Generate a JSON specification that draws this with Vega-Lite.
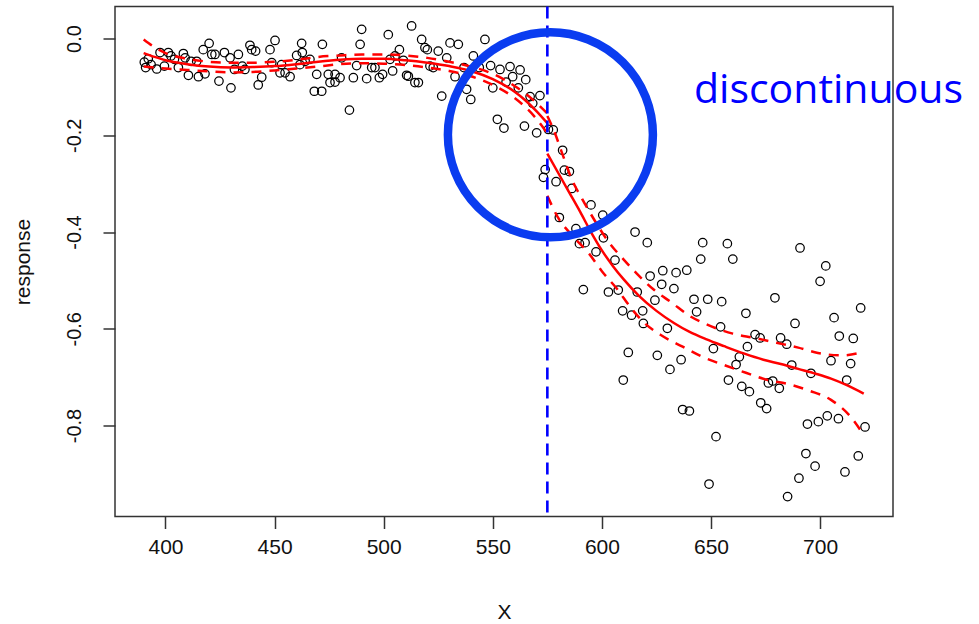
{
  "$schema": "https://vega.github.io/schema/vega-lite/v6.json",
  "width": 778,
  "height": 510,
  "autosize": {"type": "none"},
  "padding": {"left": 115, "top": 6.5, "right": 86, "bottom": 107.5},
  "background": "white",
  "config": {
    "view": {"stroke": "#333333", "strokeWidth": 1.5},
    "font": "Liberation Sans"
  },
  "datasets": {
    "obs": [
      {"x":390.3,"y":-0.049},{"x":390.9,"y":-0.060},{"x":392.1,"y":-0.042},{"x":393.4,"y":-0.054},{"x":396.0,"y":-0.063},
      {"x":397.5,"y":-0.029},{"x":399.5,"y":-0.057},{"x":401.3,"y":-0.029},{"x":402.5,"y":-0.036},{"x":404.1,"y":-0.043},
      {"x":405.9,"y":-0.060},{"x":408.2,"y":-0.031},{"x":409.0,"y":-0.040},{"x":410.5,"y":-0.076},{"x":411.7,"y":-0.047},
      {"x":414.3,"y":-0.047},{"x":415.1,"y":-0.079},{"x":417.3,"y":-0.023},{"x":418.1,"y":-0.073},{"x":420.0,"y":-0.010},
      {"x":421.2,"y":-0.033},{"x":422.7,"y":-0.033},{"x":424.5,"y":-0.088},{"x":427.0,"y":-0.029},{"x":429.6,"y":-0.040},
      {"x":430.0,"y":-0.102},{"x":431.6,"y":-0.064},{"x":433.4,"y":-0.033},{"x":435.2,"y":-0.057},{"x":436.4,"y":-0.064},
      {"x":438.7,"y":-0.014},{"x":439.5,"y":-0.023},{"x":441.3,"y":-0.026},{"x":442.5,"y":-0.096},{"x":444.1,"y":-0.080},
      {"x":447.9,"y":-0.023},{"x":450.2,"y":-0.004},{"x":448.7,"y":-0.050},{"x":452.5,"y":-0.071},{"x":453.2,"y":-0.054},
      {"x":454.8,"y":-0.071},{"x":457.1,"y":-0.079},{"x":460.1,"y":-0.035},{"x":461.6,"y":-0.054},{"x":462.4,"y":-0.010},
      {"x":462.7,"y":-0.029},{"x":464.0,"y":-0.047},{"x":466.2,"y":-0.043},{"x":469.3,"y":-0.074},{"x":468.2,"y":-0.109},
      {"x":471.6,"y":-0.109},{"x":471.9,"y":-0.012},{"x":474.6,"y":-0.074},{"x":475.4,"y":-0.091},{"x":477.7,"y":-0.074},
      {"x":477.7,"y":-0.090},{"x":480.7,"y":-0.040},
      {"x":480.0,"y":-0.081},{"x":484.3,"y":-0.148},{"x":486.1,"y":-0.081},{"x":487.6,"y":-0.056},{"x":489.2,"y":-0.012},
      {"x":489.9,"y":0.019},{"x":492.2,"y":-0.083},{"x":494.5,"y":-0.060},{"x":496.0,"y":-0.060},{"x":498.0,"y":-0.081},
      {"x":499.5,"y":-0.074},{"x":502.1,"y":0.008},{"x":502.9,"y":-0.043},{"x":504.1,"y":-0.067},{"x":505.2,"y":-0.036},
      {"x":507.2,"y":-0.023},{"x":509.0,"y":-0.045},{"x":510.5,"y":-0.076},{"x":511.3,"y":-0.078},{"x":512.8,"y":0.026},
      {"x":514.3,"y":-0.091},{"x":515.9,"y":-0.091},{"x":517.4,"y":-0.002},{"x":518.9,"y":-0.019},{"x":520.0,"y":-0.023},
      {"x":521.2,"y":-0.057},{"x":522.7,"y":-0.060},{"x":525.0,"y":-0.026},{"x":526.6,"y":-0.119},{"x":528.9,"y":-0.040},
      {"x":530.4,"y":-0.009},{"x":532.7,"y":-0.079},{"x":534.2,"y":-0.012},{"x":536.8,"y":-0.060},{"x":538.0,"y":-0.105},
      {"x":539.9,"y":-0.126},{"x":541.1,"y":-0.036},{"x":543.8,"y":-0.060},{"x":546.4,"y":-0.002},{"x":549.0,"y":-0.056},
      {"x":550.0,"y":-0.102},{"x":553.3,"y":-0.064},{"x":552.1,"y":-0.167},{"x":555.1,"y":-0.185},{"x":556.1,"y":-0.090},
      {"x":557.9,"y":-0.058},{"x":559.1,"y":-0.079},{"x":561.7,"y":-0.102},{"x":562.5,"y":-0.065},{"x":564.5,"y":-0.181},
      {"x":565.1,"y":-0.085},{"x":567.1,"y":-0.120},{"x":568.3,"y":-0.134},{"x":570.1,"y":-0.195},{"x":571.6,"y":-0.118},
      {"x":575.5,"y":-0.188},{"x":577.7,"y":-0.189},
      {"x":582.0,"y":-0.231},{"x":574.0,"y":-0.271},{"x":573.2,"y":-0.287},{"x":579.0,"y":-0.296},{"x":582.8,"y":-0.272},
      {"x":585.1,"y":-0.275},{"x":586.2,"y":-0.310},{"x":595.0,"y":-0.344},{"x":580.5,"y":-0.370},{"x":600.4,"y":-0.365},
      {"x":615.2,"y":-0.400},{"x":620.8,"y":-0.422},{"x":588.1,"y":-0.393},{"x":589.7,"y":-0.424},{"x":592.3,"y":-0.422},
      {"x":597.3,"y":-0.441},{"x":600.7,"y":-0.412},{"x":606.0,"y":-0.458},{"x":591.5,"y":-0.519},{"x":603.0,"y":-0.524},
      {"x":607.5,"y":-0.520},{"x":616.2,"y":-0.524},{"x":622.1,"y":-0.491},{"x":627.9,"y":-0.480},{"x":627.4,"y":-0.508},
      {"x":633.0,"y":-0.517},{"x":634.0,"y":-0.484},{"x":624.3,"y":-0.541},{"x":609.5,"y":-0.563},{"x":613.6,"y":-0.572},
      {"x":618.7,"y":-0.563},
      {"x":646.2,"y":-0.422},{"x":657.5,"y":-0.424},{"x":645.3,"y":-0.456},{"x":660.0,"y":-0.456},{"x":638.9,"y":-0.479},
      {"x":642.2,"y":-0.539},{"x":648.5,"y":-0.539},{"x":654.9,"y":-0.544},{"x":643.4,"y":-0.565},{"x":666.0,"y":-0.568},
      {"x":619.0,"y":-0.589},{"x":630.0,"y":-0.599},{"x":654.4,"y":-0.596},{"x":666.7,"y":-0.637},{"x":651.1,"y":-0.641},
      {"x":663.0,"y":-0.658},{"x":661.5,"y":-0.674},{"x":612.1,"y":-0.649},{"x":625.4,"y":-0.655},{"x":636.3,"y":-0.664},
      {"x":631.2,"y":-0.684},{"x":609.8,"y":-0.706},{"x":658.0,"y":-0.706},{"x":664.1,"y":-0.719},{"x":667.6,"y":-0.730},
      {"x":637.0,"y":-0.767},{"x":640.1,"y":-0.770},{"x":652.3,"y":-0.823},{"x":649.1,"y":-0.921},
      {"x":690.8,"y":-0.433},{"x":702.6,"y":-0.470},{"x":700.0,"y":-0.502},{"x":679.3,"y":-0.536},{"x":718.6,"y":-0.557},
      {"x":688.5,"y":-0.589},{"x":706.4,"y":-0.577},{"x":708.8,"y":-0.615},{"x":715.2,"y":-0.620},{"x":670.2,"y":-0.612},
      {"x":672.5,"y":-0.619},{"x":681.9,"y":-0.619},{"x":684.7,"y":-0.632},{"x":687.0,"y":-0.675},{"x":705.0,"y":-0.666},
      {"x":714.0,"y":-0.672},{"x":695.8,"y":-0.692},{"x":712.2,"y":-0.706},{"x":678.3,"y":-0.708},{"x":676.3,"y":-0.712},
      {"x":681.3,"y":-0.723},{"x":672.8,"y":-0.753},{"x":675.5,"y":-0.765},{"x":694.2,"y":-0.797},{"x":699.2,"y":-0.792},
      {"x":703.3,"y":-0.780},{"x":708.4,"y":-0.786},{"x":720.6,"y":-0.803},{"x":693.5,"y":-0.858},{"x":697.7,"y":-0.884},
      {"x":717.5,"y":-0.863},{"x":711.4,"y":-0.896},{"x":690.3,"y":-0.909},{"x":685.1,"y":-0.947}
    ],
    "fit": [
      {"seg":"L","band":"fit","x":390,"y":-0.030},{"seg":"L","band":"fit","x":395,"y":-0.038},{"seg":"L","band":"fit","x":400,"y":-0.045},
      {"seg":"L","band":"fit","x":410,"y":-0.053},{"seg":"L","band":"fit","x":420,"y":-0.058},{"seg":"L","band":"fit","x":430,"y":-0.060},
      {"seg":"L","band":"fit","x":440,"y":-0.059},{"seg":"L","band":"fit","x":450,"y":-0.057},{"seg":"L","band":"fit","x":460,"y":-0.053},
      {"seg":"L","band":"fit","x":470,"y":-0.048},{"seg":"L","band":"fit","x":480,"y":-0.044},{"seg":"L","band":"fit","x":490,"y":-0.042},
      {"seg":"L","band":"fit","x":500,"y":-0.042},{"seg":"L","band":"fit","x":510,"y":-0.045},{"seg":"L","band":"fit","x":520,"y":-0.050},
      {"seg":"L","band":"fit","x":530,"y":-0.057},{"seg":"L","band":"fit","x":540,"y":-0.067},{"seg":"L","band":"fit","x":550,"y":-0.084},
      {"seg":"L","band":"fit","x":560,"y":-0.110},{"seg":"L","band":"fit","x":565,"y":-0.128},{"seg":"L","band":"fit","x":570,"y":-0.150},
      {"seg":"L","band":"fit","x":575,"y":-0.175},
      {"seg":"L","band":"upper","x":390,"y":-0.002},{"seg":"L","band":"upper","x":395,"y":-0.018},{"seg":"L","band":"upper","x":400,"y":-0.030},
      {"seg":"L","band":"upper","x":410,"y":-0.042},{"seg":"L","band":"upper","x":420,"y":-0.048},{"seg":"L","band":"upper","x":430,"y":-0.050},
      {"seg":"L","band":"upper","x":440,"y":-0.050},{"seg":"L","band":"upper","x":450,"y":-0.048},{"seg":"L","band":"upper","x":460,"y":-0.044},
      {"seg":"L","band":"upper","x":470,"y":-0.038},{"seg":"L","band":"upper","x":480,"y":-0.035},{"seg":"L","band":"upper","x":490,"y":-0.033},
      {"seg":"L","band":"upper","x":500,"y":-0.033},{"seg":"L","band":"upper","x":510,"y":-0.035},{"seg":"L","band":"upper","x":520,"y":-0.040},
      {"seg":"L","band":"upper","x":530,"y":-0.048},{"seg":"L","band":"upper","x":540,"y":-0.058},{"seg":"L","band":"upper","x":550,"y":-0.073},
      {"seg":"L","band":"upper","x":560,"y":-0.098},{"seg":"L","band":"upper","x":565,"y":-0.114},{"seg":"L","band":"upper","x":570,"y":-0.133},
      {"seg":"L","band":"upper","x":575,"y":-0.155},
      {"seg":"L","band":"lower","x":390,"y":-0.058},{"seg":"L","band":"lower","x":395,"y":-0.060},{"seg":"L","band":"lower","x":400,"y":-0.062},
      {"seg":"L","band":"lower","x":410,"y":-0.065},{"seg":"L","band":"lower","x":420,"y":-0.068},{"seg":"L","band":"lower","x":430,"y":-0.070},
      {"seg":"L","band":"lower","x":440,"y":-0.069},{"seg":"L","band":"lower","x":450,"y":-0.066},{"seg":"L","band":"lower","x":460,"y":-0.062},
      {"seg":"L","band":"lower","x":470,"y":-0.058},{"seg":"L","band":"lower","x":480,"y":-0.053},{"seg":"L","band":"lower","x":490,"y":-0.051},
      {"seg":"L","band":"lower","x":500,"y":-0.052},{"seg":"L","band":"lower","x":510,"y":-0.055},{"seg":"L","band":"lower","x":520,"y":-0.060},
      {"seg":"L","band":"lower","x":530,"y":-0.067},{"seg":"L","band":"lower","x":540,"y":-0.078},{"seg":"L","band":"lower","x":550,"y":-0.096},
      {"seg":"L","band":"lower","x":560,"y":-0.123},{"seg":"L","band":"lower","x":565,"y":-0.142},{"seg":"L","band":"lower","x":570,"y":-0.166},
      {"seg":"L","band":"lower","x":575,"y":-0.196},
      {"seg":"R","band":"fit","x":575,"y":-0.238},{"seg":"R","band":"fit","x":580,"y":-0.278},{"seg":"R","band":"fit","x":585,"y":-0.318},
      {"seg":"R","band":"fit","x":590,"y":-0.358},{"seg":"R","band":"fit","x":595,"y":-0.400},{"seg":"R","band":"fit","x":600,"y":-0.438},
      {"seg":"R","band":"fit","x":605,"y":-0.470},{"seg":"R","band":"fit","x":610,"y":-0.498},{"seg":"R","band":"fit","x":617,"y":-0.532},
      {"seg":"R","band":"fit","x":625,"y":-0.563},{"seg":"R","band":"fit","x":633,"y":-0.588},{"seg":"R","band":"fit","x":640,"y":-0.606},
      {"seg":"R","band":"fit","x":648,"y":-0.622},{"seg":"R","band":"fit","x":656,"y":-0.636},{"seg":"R","band":"fit","x":665,"y":-0.651},
      {"seg":"R","band":"fit","x":674,"y":-0.664},{"seg":"R","band":"fit","x":682,"y":-0.673},{"seg":"R","band":"fit","x":690,"y":-0.683},
      {"seg":"R","band":"fit","x":698,"y":-0.693},{"seg":"R","band":"fit","x":705,"y":-0.703},{"seg":"R","band":"fit","x":712,"y":-0.716},
      {"seg":"R","band":"fit","x":720,"y":-0.734},
      {"seg":"R","band":"upper","x":575,"y":-0.160},{"seg":"R","band":"upper","x":578,"y":-0.190},{"seg":"R","band":"upper","x":582,"y":-0.240},
      {"seg":"R","band":"upper","x":586,"y":-0.289},{"seg":"R","band":"upper","x":591,"y":-0.332},{"seg":"R","band":"upper","x":596,"y":-0.371},
      {"seg":"R","band":"upper","x":603,"y":-0.420},{"seg":"R","band":"upper","x":610,"y":-0.457},{"seg":"R","band":"upper","x":616,"y":-0.486},
      {"seg":"R","band":"upper","x":624,"y":-0.520},{"seg":"R","band":"upper","x":632,"y":-0.546},{"seg":"R","band":"upper","x":640,"y":-0.573},
      {"seg":"R","band":"upper","x":648,"y":-0.591},{"seg":"R","band":"upper","x":660,"y":-0.610},{"seg":"R","band":"upper","x":670,"y":-0.619},
      {"seg":"R","band":"upper","x":680,"y":-0.629},{"seg":"R","band":"upper","x":690,"y":-0.639},{"seg":"R","band":"upper","x":699,"y":-0.650},
      {"seg":"R","band":"upper","x":710,"y":-0.655},{"seg":"R","band":"upper","x":720,"y":-0.648},
      {"seg":"R","band":"lower","x":575,"y":-0.325},{"seg":"R","band":"lower","x":580,"y":-0.371},{"seg":"R","band":"lower","x":587,"y":-0.410},
      {"seg":"R","band":"lower","x":594,"y":-0.444},{"seg":"R","band":"lower","x":600,"y":-0.481},{"seg":"R","band":"lower","x":607,"y":-0.518},
      {"seg":"R","band":"lower","x":613,"y":-0.555},{"seg":"R","band":"lower","x":619,"y":-0.586},{"seg":"R","band":"lower","x":627,"y":-0.613},
      {"seg":"R","band":"lower","x":637,"y":-0.637},{"seg":"R","band":"lower","x":646,"y":-0.658},{"seg":"R","band":"lower","x":656,"y":-0.675},
      {"seg":"R","band":"lower","x":666,"y":-0.691},{"seg":"R","band":"lower","x":676,"y":-0.706},{"seg":"R","band":"lower","x":685,"y":-0.714},
      {"seg":"R","band":"lower","x":695,"y":-0.728},{"seg":"R","band":"lower","x":705,"y":-0.747},{"seg":"R","band":"lower","x":714,"y":-0.782},
      {"seg":"R","band":"lower","x":720,"y":-0.820}
    ],
    "cut": [{"x": 575}],
    "ring": [{"x": 576.4, "y": -0.199}],
    "note": [{"x": 642.2, "y": -0.133, "label": "discontinuous"}]
  },
  "layer": [
    {
      "data": {"name": "obs"},
      "mark": {"type": "point", "shape": "circle", "filled": false, "stroke": "#000000", "strokeWidth": 1.25, "size": 72, "opacity": 1},
      "encoding": {
        "x": {
          "field": "x", "type": "quantitative", "title": "X",
          "scale": {"domain": [376.86, 733.41], "nice": false, "zero": false},
          "axis": {
            "values": [400, 450, 500, 550, 600, 650, 700], "format": "d",
            "grid": false, "domain": false, "tickSize": 12, "tickColor": "#333333", "tickWidth": 1.5,
            "labelFont": "Liberation Sans", "labelFontSize": 21, "labelColor": "#111111", "labelPadding": 8,
            "labelFlush": false, "labelOverlap": false,
            "titleFont": "Liberation Sans", "titleFontSize": 21, "titleFontWeight": "normal", "titleColor": "#111111",
            "titleX": 389, "titleY": 102, "titleAlign": "center", "titleBaseline": "alphabetic"
          }
        },
        "y": {
          "field": "y", "type": "quantitative", "title": "response",
          "scale": {"domain": [-0.9881, 0.0662], "nice": false, "zero": false},
          "axis": {
            "values": [0, -0.2, -0.4, -0.6, -0.8],
            "labelExpr": "replace(format(datum.value, '.1f'), '\u2212', '-')",
            "grid": false, "domain": false, "tickSize": 12, "tickColor": "#333333", "tickWidth": 1.5,
            "labelFont": "Liberation Sans", "labelFontSize": 20, "labelColor": "#111111",
            "labelAngle": 270, "labelAlign": "center", "labelBaseline": "alphabetic", "labelPadding": 23,
            "labelFlush": false, "labelOverlap": false,
            "titleFont": "Liberation Sans", "titleFontSize": 21, "titleFontWeight": "normal", "titleColor": "#111111",
            "titleAngle": 270, "titleX": -85.5, "titleY": 255, "titleAlign": "center", "titleBaseline": "alphabetic"
          }
        }
      }
    },
    {
      "data": {"name": "fit"},
      "transform": [{"filter": "datum.band === 'fit'"}],
      "mark": {"type": "line", "color": "#ff0000", "strokeWidth": 2.5, "interpolate": "monotone"},
      "encoding": {
        "x": {"field": "x", "type": "quantitative", "title": "X"},
        "y": {"field": "y", "type": "quantitative", "title": "response"},
        "detail": {"field": "seg"}
      }
    },
    {
      "data": {"name": "fit"},
      "transform": [{"filter": "datum.band !== 'fit'"}],
      "mark": {"type": "line", "color": "#ff0000", "strokeWidth": 2.5, "strokeDash": [10, 8], "interpolate": "monotone"},
      "encoding": {
        "x": {"field": "x", "type": "quantitative", "title": "X"},
        "y": {"field": "y", "type": "quantitative", "title": "response"},
        "detail": [{"field": "seg"}, {"field": "band"}]
      }
    },
    {
      "data": {"name": "cut"},
      "mark": {"type": "rule", "color": "#0000ff", "strokeWidth": 2.6, "strokeDash": [12, 7]},
      "encoding": {
        "x": {"field": "x", "type": "quantitative", "title": "X"}
      }
    },
    {
      "data": {"name": "ring"},
      "mark": {"type": "point", "shape": "circle", "filled": false, "stroke": "#0a3cf0", "strokeWidth": 8.5, "size": 42025, "opacity": 1},
      "encoding": {
        "x": {"field": "x", "type": "quantitative", "title": "X"},
        "y": {"field": "y", "type": "quantitative", "title": "response"}
      }
    },
    {
      "data": {"name": "note"},
      "mark": {"type": "text", "font": "Open Sans", "fontSize": 41, "color": "#0000ff", "align": "left", "baseline": "alphabetic", "clip": false},
      "encoding": {
        "x": {"field": "x", "type": "quantitative", "title": "X"},
        "y": {"field": "y", "type": "quantitative", "title": "response"},
        "text": {"field": "label"}
      }
    }
  ]
}
